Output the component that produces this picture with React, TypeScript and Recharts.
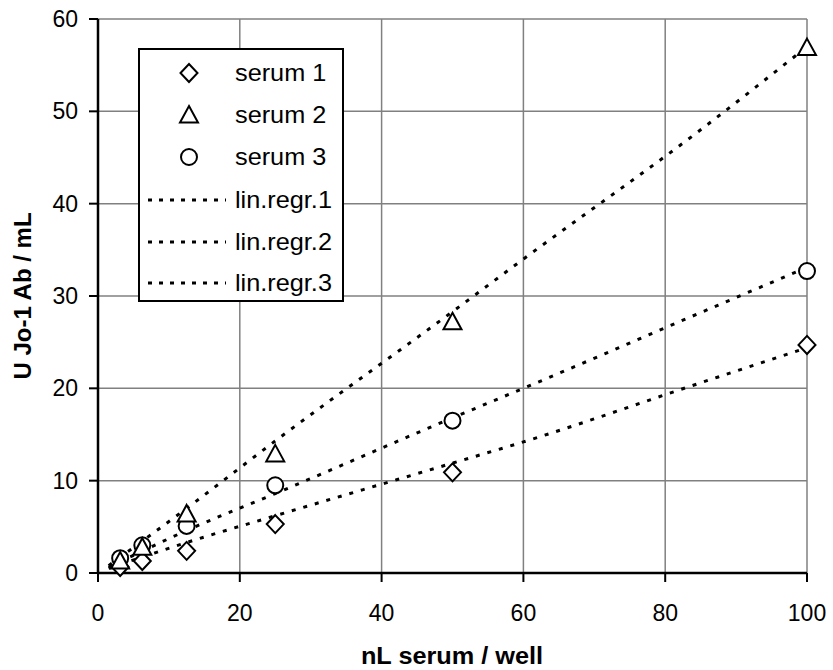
import React from "react";
import { ComposedChart, Scatter, Line, XAxis, YAxis, CartesianGrid } from "recharts";

// dilution series (nL serum / well)
const doses = [3.125, 6.25, 12.5, 25, 50, 100];
const serum1 = [0.65, 1.3, 2.4, 5.3, 10.9, 24.7];
const serum2 = [1.3, 2.8, 6.4, 12.9, 27.2, 56.9];
const serum3 = [1.6, 3.0, 5.1, 9.5, 16.5, 32.7];

// regression lines
const regrX = [1.5, 12.5, 25, 50, 60, 85, 100];
const regr1 = [0.5, 3.3, 6.2, 11.9, 14.2, 20.6, 24.4];
const regr2 = [0.8, 7.0, 14.3, 28.3, 34.0, 48.0, 57.0];
const regr3 = [0.6, 4.6, 8.6, 16.8, 20.0, 28.2, 33.1];

const xTicks = [0, 20, 40, 60, 80, 100];
const yTicks = [0, 10, 20, 30, 40, 50, 60];
const legendLabels = ["serum 1", "serum 2", "serum 3", "lin.regr.1", "lin.regr.2", "lin.regr.3"];

const font = "'Liberation Sans', Arial, sans-serif";

const toPoints = (xs: number[], ys: number[]) => xs.map((x, i) => ({ x, y: ys[i] }));

const Diamond = ({ cx, cy }: any) => (
  <path d={`M${cx},${cy - 9}L${cx + 8.5},${cy}L${cx},${cy + 9}L${cx - 8.5},${cy}Z`} fill="#fff" stroke="#000" strokeWidth={2} />
);
const Triangle = ({ cx, cy }: any) => (
  <path d={`M${cx},${cy - 9}L${cx + 9},${cy + 7.5}L${cx - 9},${cy + 7.5}Z`} fill="#fff" stroke="#000" strokeWidth={2} />
);
const Circle = ({ cx, cy }: any) => <circle cx={cx} cy={cy} r={8} fill="#fff" stroke="#000" strokeWidth={2} />;

const YTitle = () => (
  <text
    x={22}
    y={296}
    transform="rotate(-90 22 296)"
    textAnchor="middle"
    dominantBaseline="central"
    fontFamily={font}
    fontWeight="bold"
    fontSize={24}
    fill="#000"
  >
    U Jo-1 Ab / mL
  </text>
);

const XTitle = () => (
  <text
    transform="translate(452 664) scale(1.1 1)"
    textAnchor="middle"
    fontFamily={font}
    fontWeight="bold"
    fontSize={23}
    fill="#000"
  >
    nL serum / well
  </text>
);

function LegendBox() {
  const rowY = [25, 67, 109, 152, 194, 235];
  const markers = [Diamond, Triangle, Circle];
  return (
    <svg style={{ position: "absolute", left: 138, top: 48 }} width={206} height={254}>
      <rect x={1} y={1} width={204} height={252} fill="#fff" stroke="#000" strokeWidth={2} />
      {legendLabels.map((label, i) => {
        const M = markers[i];
        return (
          <g key={label}>
            {M ? (
              <M cx={51} cy={rowY[i]} />
            ) : (
              <line x1={10} x2={88} y1={rowY[i]} y2={rowY[i]} stroke="#000" strokeWidth={3} strokeDasharray="4 7" />
            )}
            <text
              transform={`translate(97 ${rowY[i]}) scale(1.1 1)`}
              dominantBaseline="central"
              fontFamily={font}
              fontSize={23}
              fill="#000"
            >
              {label}
            </text>
          </g>
        );
      })}
    </svg>
  );
}

export default function App() {
  const dotted = { stroke: "#000", strokeWidth: 3, strokeDasharray: "4 8" };
  return (
    <div style={{ position: "absolute", left: 0, top: 0, width: 833, height: 670, background: "#fff" }}>
      <ComposedChart width={833} height={670} margin={{ top: 19, right: 26, bottom: 0, left: 0 }}>
        <CartesianGrid stroke="#808080" strokeWidth={1.5} />
        <XAxis
          type="number"
          dataKey="x"
          domain={[0, 100]}
          ticks={xTicks}
          height={97}
          tickSize={9}
          tickMargin={23}
          axisLine={{ stroke: "#000", strokeWidth: 2.5 }}
          tickLine={{ stroke: "#000", strokeWidth: 2 }}
          tick={{ fill: "#000", fontSize: 23, fontFamily: font }}
          label={<XTitle />}
        />
        <YAxis
          type="number"
          dataKey="y"
          domain={[0, 60]}
          ticks={yTicks}
          width={98}
          tickSize={9}
          tickMargin={11}
          axisLine={{ stroke: "#000", strokeWidth: 2.5 }}
          tickLine={{ stroke: "#000", strokeWidth: 2 }}
          tick={{ fill: "#000", fontSize: 23, fontFamily: font }}
          label={<YTitle />}
        />
        <Line data={toPoints(regrX, regr1)} dataKey="y" type="monotone" dot={false} isAnimationActive={false} {...dotted} />
        <Line data={toPoints(regrX, regr2)} dataKey="y" type="monotone" dot={false} isAnimationActive={false} {...dotted} />
        <Line data={toPoints(regrX, regr3)} dataKey="y" type="monotone" dot={false} isAnimationActive={false} {...dotted} />
        <Scatter data={toPoints(doses, serum1)} dataKey="y" shape={Diamond} isAnimationActive={false} />
        <Scatter data={toPoints(doses, serum3)} dataKey="y" shape={Circle} isAnimationActive={false} />
        <Scatter data={toPoints(doses, serum2)} dataKey="y" shape={Triangle} isAnimationActive={false} />
      </ComposedChart>
      <LegendBox />
    </div>
  );
}
